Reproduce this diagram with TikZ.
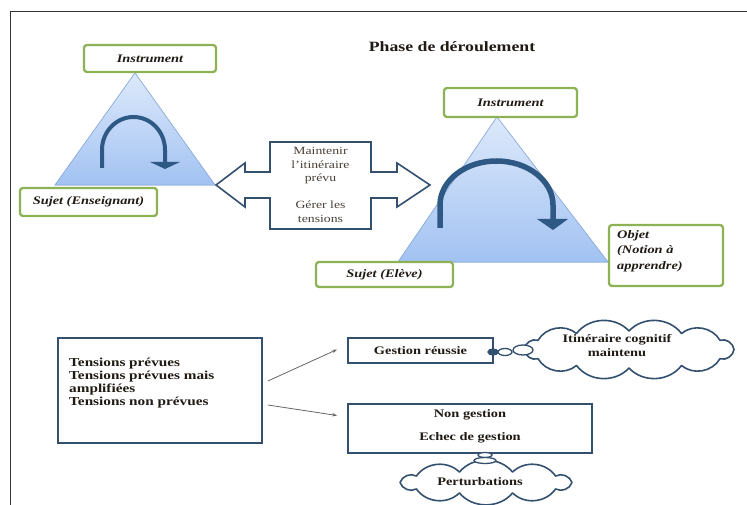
\documentclass[tikz,border=0pt]{standalone}
\usepackage{fontspec}
\setmainfont[FakeStretch=1.25]{Liberation Serif}
\usetikzlibrary{calc,arrows.meta}
\definecolor{boxgreen}{HTML}{8DB255}
\definecolor{tritop}{HTML}{DDE9FB}
\definecolor{tribot}{HTML}{A2C2F2}
\definecolor{triedge}{HTML}{8EAEDB}
\definecolor{arcblue}{HTML}{2E5984}
\definecolor{lineblue}{HTML}{33506F}
\definecolor{txtdark}{HTML}{201A14}
\definecolor{txtsoft}{HTML}{4A4038}
\begin{document}
\begin{tikzpicture}[x=1pt,y=-1pt,
  gbox/.style={draw=boxgreen, line width=2.3pt, rounded corners=3pt, fill=white, inner sep=0pt},
  bbox/.style={draw=lineblue, line width=1.8pt, fill=white, inner sep=0pt},
  lab/.style={font=\fontsize{11.5}{15.5}\selectfont\bfseries\itshape, text=txtdark, inner sep=0pt},
  btxt/.style={font=\fontsize{11.5}{13}\selectfont\bfseries, text=txtdark, inner sep=0pt},
  rtxt/.style={font=\fontsize{11}{13.5}\selectfont, text=txtsoft, inner sep=0pt, align=center},
  tri/.style={top color=tritop, bottom color=tribot, draw=triedge, line width=0.6pt},
  arcline/.style={draw=arcblue, line cap=butt},
  cloudline/.style={draw=lineblue, line width=1.6pt, fill=white, line join=round},
  bubble/.style={draw=lineblue, line width=1.3pt, fill=white},
  conn/.style={draw=black!60, line width=0.8pt, -{Stealth[length=5pt,width=3.5pt]}}
]
\useasboundingbox (0,0) rectangle (747,505);
% frame
\draw[black!80, line width=0.9pt] (10,505) -- (10,11) -- (747,11);
% title
\node[font=\fontsize{14.2}{15}\selectfont\bfseries, text=txtdark, inner sep=0pt] (title) at (452,47) {Phase de déroulement};

% left triangle
\coordinate (la) at (135,73);
\coordinate (lb) at (55,185);
\coordinate (lc) at (215,185);
\shade[tri] (la) -- (lb) -- (lc) -- cycle;
\draw[tri, fill=none] (la) -- (lb) -- (lc) -- cycle;
\draw[arcline, line width=4pt] (102,168) -- (102,150) arc[start angle=180, end angle=360, x radius=31.5, y radius=33] -- (165,163);
\fill[arcblue] (150,162) -- (180,162) -- (165,169) -- cycle;

% right triangle
\coordinate (ra) at (497,117);
\coordinate (rb) at (398,262);
\coordinate (rc) at (608,262);
\shade[tri] (ra) -- (rb) -- (rc) -- cycle;
\draw[tri, fill=none] (ra) -- (rb) -- (rc) -- cycle;
\draw[arcline, line width=5.5pt] (440,228) -- (440,205) arc[start angle=180, end angle=360, x radius=56.5, y radius=44] -- (553,221);
\fill[arcblue] (537,219) -- (568,219) -- (553,230) -- cycle;

% green boxes
\node[gbox, minimum width=132, minimum height=27] (inst1) at (150,58.5) {};
\node[lab] at (inst1) {Instrument};
\node[gbox, minimum width=137, minimum height=28] (suj1) at (88.5,202) {};
\node[lab] at (suj1) {Sujet (Enseignant)};
\node[gbox, minimum width=133, minimum height=29] (inst2) at (510.5,102.5) {};
\node[lab] at (inst2) {Instrument};
\node[gbox, minimum width=137, minimum height=25] (suj2) at (384.5,274.5) {};
\node[lab] at (suj2) {Sujet (Elève)};
\node[gbox, minimum width=114, minimum height=61] (obj) at (666,255.5) {};
\node[lab, align=left, anchor=north west] (objt) at (617,230) {Objet\\(Notion à\\apprendre)};

% double arrow
\draw[draw=lineblue, line width=1.6pt, fill=white, line join=miter]
  (216,185) -- (245,163) -- (245,172) -- (270,172) -- (270,142) -- (371,142) -- (371,172)
  -- (397,172) -- (397,163) -- (430,185) -- (397,207) -- (397,198) -- (371,198)
  -- (371,229) -- (270,229) -- (270,198) -- (245,198) -- (245,207) -- cycle;
\node[rtxt] (mt1) at (320.5,166) {Maintenir\\l'itinéraire\\prévu};
\node[rtxt] (mt2) at (320.5,211.5) {Gérer les\\tensions};

% bottom part
\node[bbox, minimum width=204, minimum height=105] (tens) at (160,390.5) {};
\node[btxt, font=\fontsize{12.2}{13}\selectfont\bfseries, align=left, anchor=north west] (tenst) at (69,358) {Tensions prévues\\Tensions prévues mais\\amplifiées\\Tensions non prévues};

\node[bbox, minimum width=145, minimum height=25] (gest) at (420.5,350.5) {};
\node[btxt] at (gest) {Gestion réussie};
\node[bbox, minimum width=244, minimum height=49] (nong) at (470,428.5) {};
\node[btxt] (ng1) at (470,415) {Non gestion};
\node[btxt] (ng2) at (470,438) {Echec de gestion};

\draw[conn] ($(tens.east)+(5,-9.5)$) -- ($(gest.west)+(-10,-1)$);
\draw[conn] ($(tens.east)+(5,14.5)$) -- ($(nong.west)+(-10,-13)$);

% cloud 1
\coordinate (c1) at (629,349.5);
\draw[cloudline] ([shift={(c1)}]0:105 and 18.5)
  \foreach \a in {30,60,...,360} { to[bend left=50] ([shift={(c1)}]\a:105 and 18.5) } -- cycle;
\node[btxt, align=center, font=\fontsize{11.5}{14}\selectfont\bfseries] (cl1t) at (617,346) {Itinéraire cognitif\\maintenu};
\draw[bubble, fill=lineblue] (493,352) ellipse[x radius=5, y radius=3];
\draw[bubble] (505,352) ellipse[x radius=7, y radius=3.5];
\draw[bubble] (523,350) ellipse[x radius=10, y radius=5];

% cloud 2
\coordinate (c2) at (486,482.5);
\draw[cloudline] ([shift={(c2)}]0:86 and 11)
  \foreach \a in {36,72,...,360} { to[bend left=50] ([shift={(c2)}]\a:86 and 11) } -- cycle;
\node[btxt] (cl2t) at (480,482) {Perturbations};
\draw[bubble] (485,455) ellipse[x radius=7, y radius=2.5];
\draw[bubble] (485,460.5) ellipse[x radius=11, y radius=3];
\end{tikzpicture}
\end{document}
